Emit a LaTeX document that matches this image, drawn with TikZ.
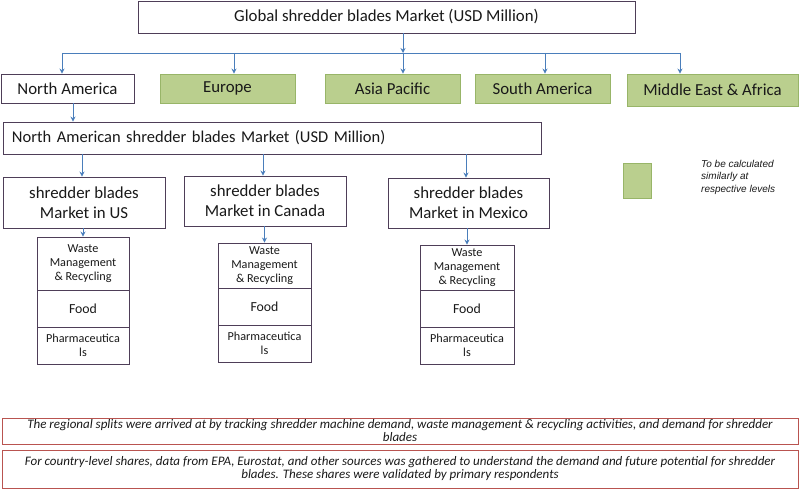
\documentclass[tikz,border=0pt]{standalone}
\usepackage{fontspec}
\setmainfont{Carlito}
\newfontfamily\legendfont{Liberation Sans}
\usetikzlibrary{arrows.meta}
\definecolor{boxline}{RGB}{78,62,88}
\definecolor{greenfill}{RGB}{186,207,142}
\definecolor{greenline}{RGB}{152,181,104}
\definecolor{arrowblue}{RGB}{74,126,187}
\definecolor{noteline}{RGB}{185,84,80}
\definecolor{textgrey}{RGB}{25,25,25}
\begin{document}
\begin{tikzpicture}[x=1pt, y=-1pt,
  every node/.style={inner sep=0pt, text=textgrey},
  plainbox/.style={draw=boxline, line width=0.9pt, fill=white, align=center, font=\fontsize{16.8}{20}\selectfont},
  regionbox/.style={draw=greenline, line width=0.9pt, fill=greenfill, font=\fontsize{16.8}{20}\selectfont},
  cellbox/.style={draw=boxline, line width=0.9pt, align=center, font=\fontsize{12.2}{14}\selectfont},
  notebox/.style={draw=noteline, line width=0.9pt, align=center, font=\fontsize{13}{13}\selectfont\itshape},
  link/.style={draw=arrowblue, line width=0.9pt},
  arr/.style={link, -{Stealth[length=5pt, width=5pt]}}]
\useasboundingbox (0,0) rectangle (800,492);
\node[plainbox, minimum width=497pt, minimum height=32pt] (global) at (386.5,17) {Global shredder blades Market (USD Million)};
\node[plainbox, minimum width=133pt, minimum height=29pt] (na) at (67.5,88.5) {North America};
\node[regionbox, minimum width=135pt, minimum height=29pt] (europe) at (227.5,88.5) {Europe};
\node[regionbox, minimum width=135pt, minimum height=29pt] (apac) at (392.5,88.5) {Asia Pacific};
\node[regionbox, minimum width=135pt, minimum height=29pt] (samerica) at (542.5,88.5) {South America};
\node[regionbox, minimum width=171pt, minimum height=32pt] (mea) at (712.5,90) {Middle East \& Africa};
\node[plainbox, minimum height=32pt, text width=520pt, inner xsep=9pt, align=left, font=\fontsize{16.5}{20}\selectfont] (namarket) at (272,138) {North American shredder blades Market (USD Million)};
\node[plainbox, minimum width=162pt, minimum height=51pt] (us) at (84,202.5) {shredder blades\\Market in US};
\node[plainbox, minimum width=162pt, minimum height=50pt] (canada) at (265,201) {shredder blades\\Market in Canada};
\node[plainbox, minimum width=161pt, minimum height=50pt] (mexico) at (468.5,203) {shredder blades\\Market in Mexico};
\node[cellbox, minimum width=92pt, minimum height=53pt] (uswaste) at (83,263.5) {Waste\\Management\\\& Recycling};
\node[cellbox, minimum width=92pt, minimum height=37pt, font=\fontsize{13.8}{16}\selectfont] (usfood) at (83,308.5) {Food};
\node[cellbox, minimum width=92pt, minimum height=37pt] (uspharma) at (83,345.5) {Pharmaceutica\\ls};
\node[cellbox, minimum width=93pt, minimum height=45pt] (cawaste) at (264.5,265.5) {Waste\\Management\\\& Recycling};
\node[cellbox, minimum width=93pt, minimum height=37pt, font=\fontsize{13.8}{16}\selectfont] (cafood) at (264.5,306.5) {Food};
\node[cellbox, minimum width=93pt, minimum height=37pt] (capharma) at (264.5,343.5) {Pharmaceutica\\ls};
\node[cellbox, minimum width=94pt, minimum height=45pt] (mxwaste) at (467,267.5) {Waste\\Management\\\& Recycling};
\node[cellbox, minimum width=94pt, minimum height=37pt, font=\fontsize{13.8}{16}\selectfont] (mxfood) at (467,308.5) {Food};
\node[cellbox, minimum width=94pt, minimum height=37pt] (mxpharma) at (467,345.5) {Pharmaceutica\\ls};
\node[draw=greenline, line width=0.9pt, fill=greenfill, minimum width=28pt, minimum height=35pt] (legendkey) at (637,180.5) {};
\node[anchor=north west, align=left, font=\legendfont\itshape\fontsize{10}{12.5}\selectfont] (legendtext) at (701,160) {To be calculated\\similarly at\\respective levels};
\node[notebox, minimum width=796pt, minimum height=26pt] (note1) at (400,431) {The regional splits were arrived at by tracking shredder machine demand, waste management \& recycling activities, and demand for shredder\\blades};
\node[notebox, minimum width=796pt, minimum height=38pt] (note2) at (400,469) {For country-level shares, data from EPA, Eurostat, and other sources was gathered to understand the demand and future potential for shredder\\blades. These shares were validated by primary respondents};
\coordinate (busna) at (62,53);
\coordinate (buseu) at (234,53);
\coordinate (busap) at (403,53);
\coordinate (bussa) at (545,53);
\coordinate (busmea) at (680,53);
\draw[link] (busna) -- (busmea);
\draw[arr] (busap |- global.south) -- (busap);
\draw[arr] (busna) -- (busna |- na.north);
\draw[arr] (buseu) -- (buseu |- europe.north);
\draw[arr] (busap) -- (busap |- apac.north);
\draw[arr] (bussa) -- (bussa |- samerica.north);
\draw[arr] (busmea) -- (busmea |- mea.north);
\draw[arr] (73,0 |- na.south) -- (73,0 |- namarket.north);
\draw[arr] (82,0 |- namarket.south) -- (82,0 |- us.north);
\draw[arr] (263,0 |- namarket.south) -- (263,0 |- canada.north);
\draw[arr] (466,0 |- namarket.south) -- (466,0 |- mexico.north);
\draw[arr] (uswaste.north |- us.south) -- (uswaste.north);
\draw[arr] (cawaste.north |- canada.south) -- (cawaste.north);
\draw[arr] (mxwaste.north |- mexico.south) -- (mxwaste.north);
\end{tikzpicture}
\end{document}
